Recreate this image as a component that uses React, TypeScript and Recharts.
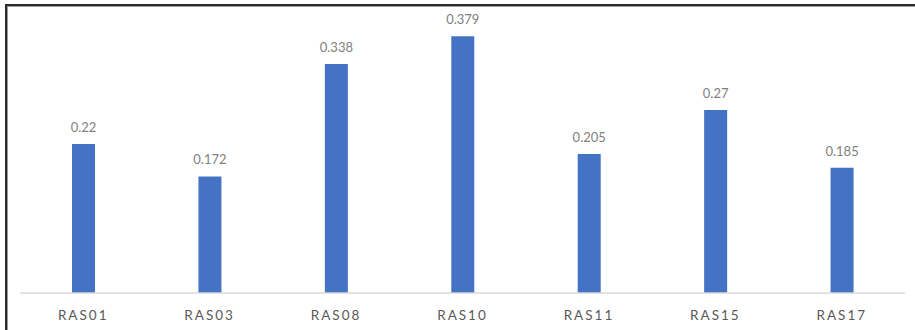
import React from "react";
import { BarChart, Bar, XAxis, YAxis, LabelList } from "recharts";

const samples = ["RAS01", "RAS03", "RAS08", "RAS10", "RAS11", "RAS15", "RAS17"];
const scores = [0.22, 0.172, 0.338, 0.379, 0.205, 0.27, 0.185];

const data = samples.map((name, i) => ({ name, score: scores[i] }));

const FONT = "Lato, 'Open Sans', sans-serif";

export default function App() {
  return (
    <div
      style={{
        position: "absolute",
        left: 0,
        top: 0,
        width: 915,
        height: 330,
        background: "#fff",
        overflow: "hidden",
      }}
    >
      {/* frame edge of the chart box */}
      <div
        style={{
          position: "absolute",
          left: 5,
          top: 4,
          width: 920,
          height: 340,
          borderTop: "2px solid #2b2b2b",
          borderLeft: "2px solid #2b2b2b",
          boxShadow: "inset 1px 1px 0 #9a9a9a",
        }}
      />
      <div style={{ position: "absolute", left: 0, top: 0 }}>
        <BarChart
          width={915}
          height={330}
          data={data}
          margin={{ top: 22, right: 10, bottom: 7, left: 20 }}
        >
          <YAxis hide domain={[0, 0.4]} />
          <XAxis
            dataKey="name"
            height={30}
            axisLine={{ stroke: "#d9d9d9", strokeWidth: 1.5 }}
            tickLine={false}
            tick={{
              fill: "#595959",
              fontSize: 13.5,
              fontFamily: FONT,
              letterSpacing: 2,
            }}
            tickMargin={11}
          />
          <Bar
            dataKey="score"
            fill="#4472c4"
            barSize={23}
            isAnimationActive={false}
          >
            <LabelList
              dataKey="score"
              position="top"
              offset={12}
              style={{ fill: "#7f7f7f", fontSize: 13, fontFamily: FONT }}
            />
          </Bar>
        </BarChart>
      </div>
    </div>
  );
}
